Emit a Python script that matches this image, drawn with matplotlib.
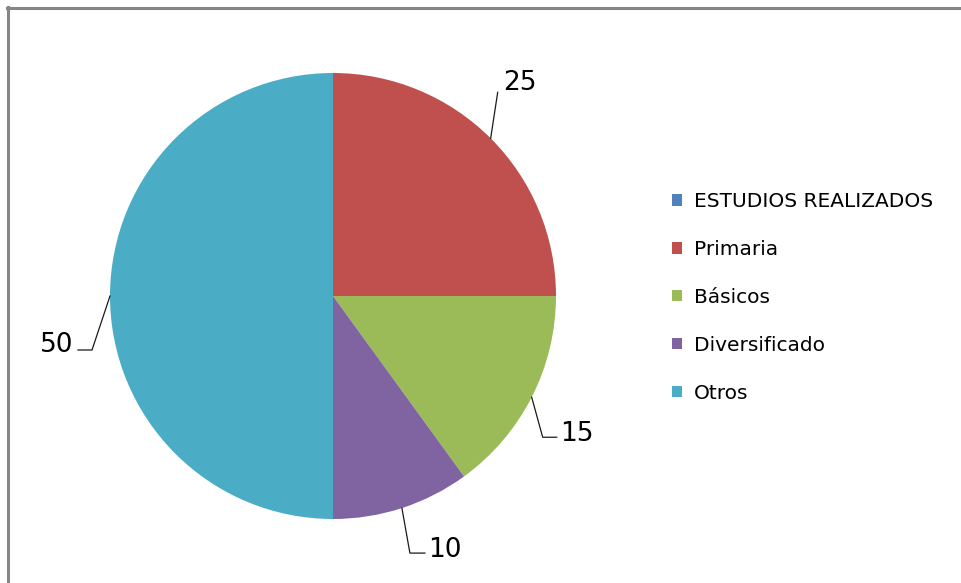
import matplotlib
matplotlib.use('Agg')
import matplotlib.pyplot as plt
from matplotlib.lines import Line2D
import numpy as np

# data
labels = ['ESTUDIOS REALIZADOS', 'Primaria', 'Básicos', 'Diversificado', 'Otros']
values = [0, 25, 15, 10, 50]
colors = ['#4F81BD', '#C0504D', '#9BBB59', '#8064A2', '#4BACC6']

W, H = 961, 583
fig = plt.figure(figsize=(W / 100, H / 100), dpi=100)
plt.rcParams['font.family'] = ['DejaVu Sans']

# pie centre (333, 296), radius 223 px
cx, cy, r = 333, 296, 223
ax = fig.add_axes([(cx - r) / W, (H - cy - r) / H, 2 * r / W, 2 * r / H])
wedges, _ = ax.pie(values, colors=colors, startangle=90, counterclock=False,
                   radius=1, wedgeprops=dict(linewidth=0))
ax.set_xlim(-1, 1)
ax.set_ylim(-1, 1)
ax.axis('off')

# leader lines: elbow offset (px, image y down), tail length, text side
leaders = {
    'Primaria': ((7, -46), 0, 'up'),
    'Básicos': ((11, 40), 14, 'right'),
    'Diversificado': ((8, 45), 15, 'right'),
    'Otros': ((-18, 54), -14, 'left'),
}
px = 1.0 / r
for w, lab, v in zip(wedges, labels, values):
    if v == 0:
        continue
    mid = np.deg2rad((w.theta1 + w.theta2) / 2)
    x0, y0 = np.cos(mid), np.sin(mid)
    (dx, dy), tail, side = leaders[lab]
    x1, y1 = x0 + dx * px, y0 - dy * px
    x2 = x1 + tail * px
    ax.plot([x0, x1, x2], [y0, y1, y1], color='#1a1a1a', lw=0.9, clip_on=False)
    if side == 'up':
        ax.text(x1 + 5 * px, y1 + 9 * px, str(v), fontsize=19,
                ha='left', va='center', clip_on=False)
    elif side == 'right':
        ax.text(x2 + 3 * px, y1 + 3 * px, str(v), fontsize=19,
                ha='left', va='center', clip_on=False)
    else:
        ax.text(x2 - 5 * px, y1 + 5 * px, str(v), fontsize=19,
                ha='right', va='center', clip_on=False)

fig.legend(wedges, labels, loc='upper left',
           bbox_to_anchor=(662 / W, 1 - 182 / H), frameon=False,
           fontsize=14.5, handlelength=0.5, handleheight=0.5,
           handletextpad=0.6, labelspacing=1.435, borderpad=0)

# chart border (top and left visible)
fig.add_artist(Line2D([7 / W, 1], [1 - 8 / H, 1 - 8 / H], color='#868686', lw=2.2))
fig.add_artist(Line2D([8 / W, 8 / W], [0, 1 - 7 / H], color='#868686', lw=2.2))

plt.savefig('out.png', dpi=100)
